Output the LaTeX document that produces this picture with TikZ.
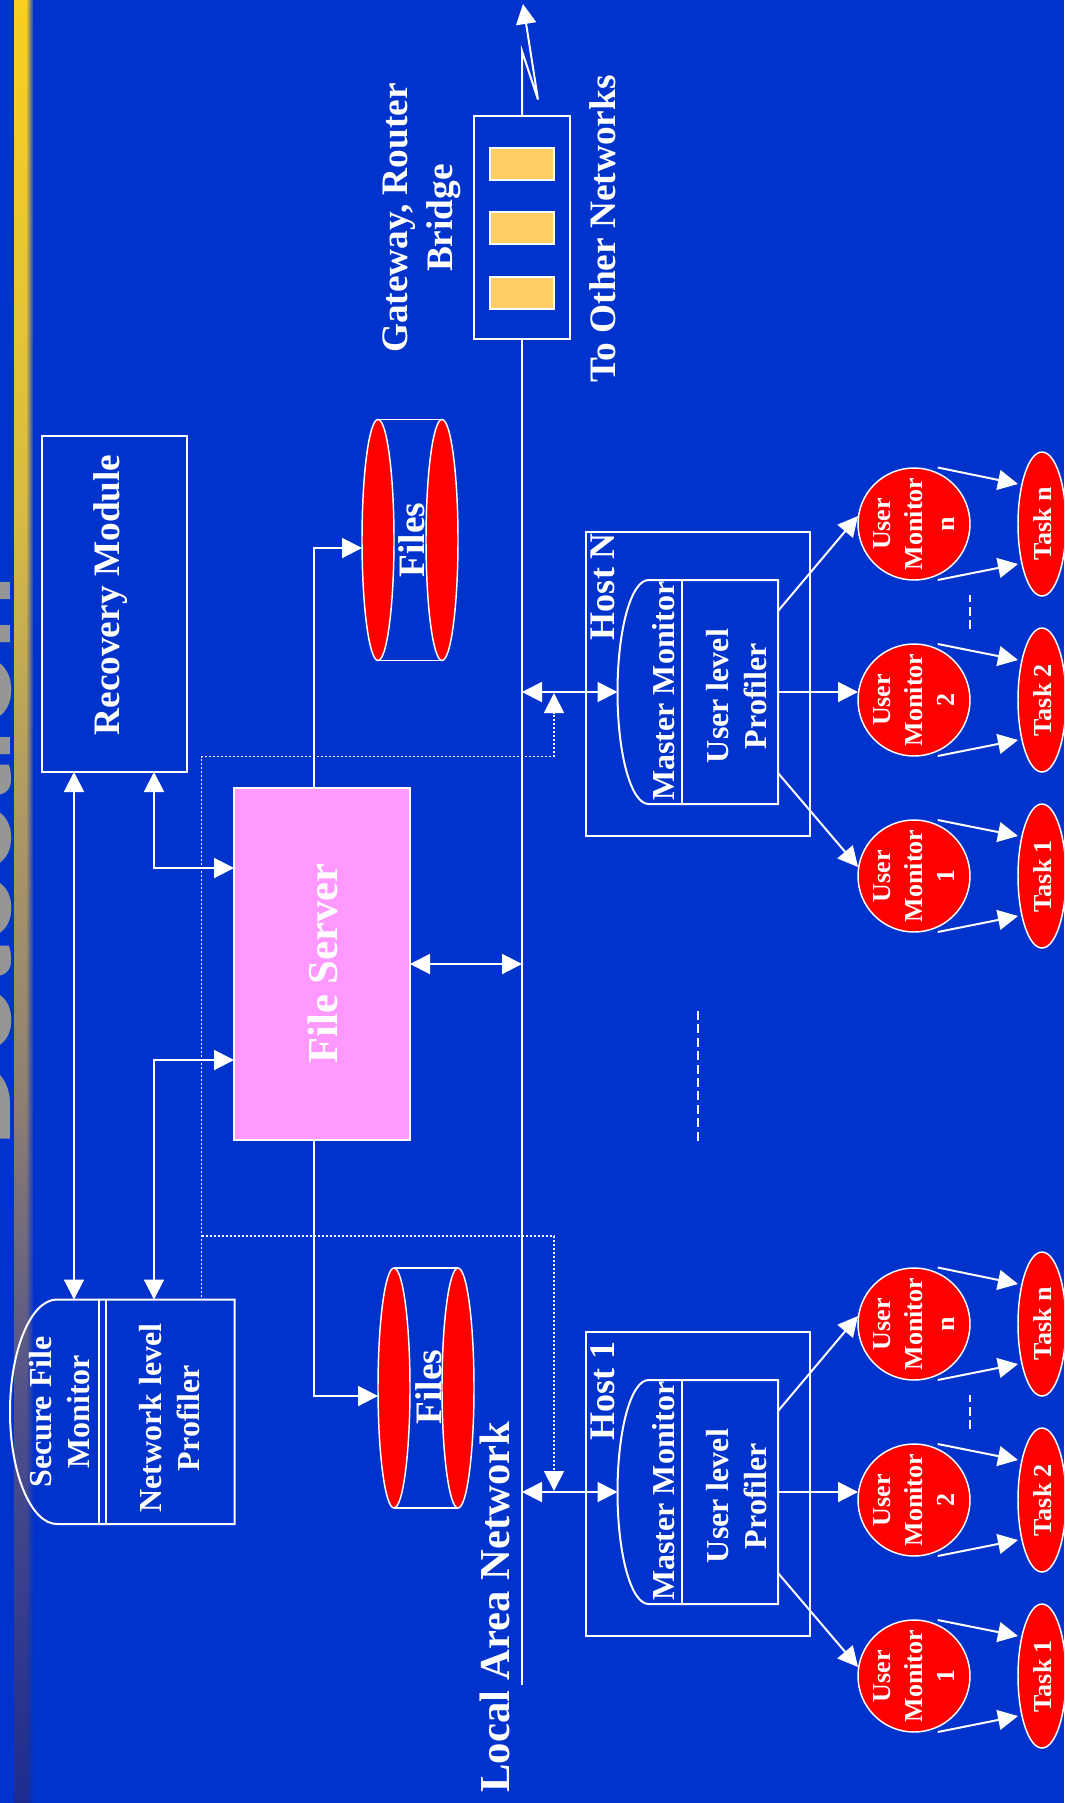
\documentclass[tikz,border=0pt]{standalone}
\usepackage{fontspec}
\setmainfont{Liberation Serif}
\newfontfamily\titlefont{Liberation Sans}
\usetikzlibrary{arrows.meta,shapes.geometric,fadings}
\definecolor{slidebg}{HTML}{0033CC}
\definecolor{pinkbox}{HTML}{FF99FF}
\definecolor{slot}{HTML}{FFCC66}
\definecolor{titlegray}{HTML}{969696}
\definecolor{barA}{HTML}{1C2B8E}
\definecolor{barB}{HTML}{50508A}
\definecolor{barC}{HTML}{8F7F72}
\definecolor{barD}{HTML}{AF9A62}
\definecolor{barE}{HTML}{D9BC42}
\definecolor{barF}{HTML}{F9D020}
\pgfdeclareverticalshading{barshade}{100bp}{
  color(0bp)=(barA);color(25bp)=(barA);color(36bp)=(barB);color(44.5bp)=(barC);color(52.8bp)=(barD);color(61bp)=(barE);color(75bp)=(barF);color(100bp)=(barF)}
\tikzfading[name=barfade,left color=transparent!100,right color=transparent!0]
\tikzset{
  x=0.75pt,y=-0.75pt,
  wline/.style={draw=white,line width=1.5pt},
  thinl/.style={draw=white,line width=1.2pt},
  arr/.style={wline,-{Triangle[length=15pt,width=15pt]}},
  darr/.style={wline,{Triangle[length=15pt,width=15pt]}-{Triangle[length=15pt,width=15pt]}},
  dots/.style={draw=white,line width=1.3pt,dash pattern=on 1.5pt off 1.5pt},
  dotarr/.style={dots,-{Triangle[length=15pt,width=15pt]}},
  bx/.style={wline,rectangle,inner sep=0pt,outer sep=0pt},
  redell/.style={ellipse,draw=white,line width=1.1pt,fill=red,inner sep=0pt,outer sep=0pt},
  lbl/.style={rotate=90,text=white,inner sep=0pt,outer sep=0pt,align=center},
  big/.style={lbl,font=\bfseries\fontsize{28}{33.75}\selectfont},
  mid/.style={lbl,font=\bfseries\fontsize{24}{28.5}\selectfont},
  small/.style={lbl,font=\bfseries\fontsize{19.5}{24}\selectfont},
}
\begin{document}
\begin{tikzpicture}
\useasboundingbox (0,0) rectangle (1064,1803);
\clip (0,0) rectangle (1064,1803);
\fill[slidebg] (0,0) rectangle (1064,1803);
% clipped slide title and side bar
\node[rotate=90,anchor=base,text=titlegray,inner sep=0pt,font=\titlefont\bfseries\fontsize{94.4}{100}\selectfont] (title) at (11,861) {Detection};
\shade[shading=barshade] (14,0) rectangle (33,1803);
\fill[slidebg,path fading=barfade] (26,-40) rectangle (34,1843);
% gateway
\node[bx,minimum width=72pt,minimum height=167.25pt] (gw) at (522.2,227.5) {};
\node[bx,fill=slot,minimum width=48pt,minimum height=24pt] (s1) at (522.2,164) {};
\node[bx,fill=slot,minimum width=48pt,minimum height=24pt] (s2) at (522.2,228) {};
\node[bx,fill=slot,minimum width=48pt,minimum height=24pt] (s3) at (522.2,292.5) {};
\coordinate (z1) at (522,51);
\coordinate (z2) at (538,99.5);
\coordinate (z3) at (523,4);
\draw[arr] (gw.north) -- (z1) -- (z2) -- (z3);
\coordinate (lanEnd) at (522.2,1685);
\draw[wline] (gw.south) -- (lanEnd);
\node[big] (gwt) at (422,218) {Gateway, Router\\Bridge};
\node[big,anchor=base] (toot) at (615.5,229) {To Other Networks};
\node[lbl,anchor=base,font=\bfseries\fontsize{32}{38}\selectfont] (lant) at (509,1607) {Local Area Network};
% recovery
\node[bx,minimum width=108.4pt,minimum height=252pt] (rec) at (114.25,604) {};
\node[big,anchor=base] (rect) at (119,595) {Recovery Module};
% file server
\node[bx,fill=pinkbox,minimum width=132pt,minimum height=264pt] (fs) at (322,964) {};
\node[lbl,anchor=base,font=\bfseries\fontsize{32}{38}\selectfont] (fst) at (337,963.5) {File Server};
% files
\node[redell,minimum width=24pt,minimum height=180.75pt] (fa) at (378,540) {};
\node[redell,minimum width=24pt,minimum height=180.75pt] (fb) at (442,540) {};
\draw[thinl] (fa.north) -- (fb.north) (fa.south) -- (fb.south);
\node[big,anchor=base] (fat) at (424.5,540) {Files};
\node[redell,minimum width=24pt,minimum height=180pt] (fc) at (394,1388) {};
\node[redell,minimum width=24pt,minimum height=180pt] (fd) at (458,1388) {};
\draw[thinl] (fc.north) -- (fd.north) (fc.south) -- (fd.south);
\node[big,anchor=base] (fct) at (441,1387) {Files};
% secure file monitor
\coordinate (sa) at (57,1299.5);
\coordinate (sb) at (234.7,1299.5);
\coordinate (sc) at (234.7,1524);
\coordinate (sd) at (57,1524);
\coordinate (sl) at (10,1411.7);
\draw[wline,line join=miter] (sa) -- (sb) -- (sc) -- (sd) .. controls (31,1524) and (10,1473) .. (sl) .. controls (10,1350) and (31,1299.5) .. (sa);
\coordinate (d1a) at (99,1299.5); \coordinate (d1b) at (99,1524);
\coordinate (d2a) at (106,1299.5); \coordinate (d2b) at (106,1524);
\draw[wline] (d1a) -- (d1b) (d2a) -- (d2b);
\node[mid] (sft) at (60,1412) {Secure File\\Monitor};
\node[mid] (nlt) at (170,1418) {Network level\\Profiler};
% connectors left
\coordinate (rA) at (74,772); \coordinate (sA) at (74,1299.5);
\coordinate (rB) at (154,772); \coordinate (kB) at (154,868); \coordinate (fB) at (234,868);
\coordinate (fC) at (234,1060); \coordinate (kC) at (154,1060); \coordinate (sC) at (154,1299.5);
\draw[darr] (rA) -- (sA);
\draw[darr] (rB) -- (kB) -- (fB);
\draw[darr] (fC) -- (kC) -- (sC);
\coordinate (fD) at (314,788); \coordinate (kD) at (314,548); \coordinate (tD) at (362,548);
\draw[arr] (fD) -- (kD) -- (tD);
\coordinate (fE) at (314,1140); \coordinate (kE) at (314,1396); \coordinate (tE) at (378,1396);
\draw[arr] (fE) -- (kE) -- (tE);
\coordinate (fF) at (410,964); \coordinate (lF) at (522,964);
\draw[darr] (fF) -- (lF);
% hosts
\foreach \h/\ys in {N/0,1/-600}{
\begin{scope}[yshift=\ys pt]
\node[bx,minimum width=168.2pt,minimum height=228pt] (hb\h) at (698,684) {};
\coordinate (ma\h) at (648.6,580);
\coordinate (mb\h) at (778,580);
\coordinate (mc\h) at (778,804);
\coordinate (md\h) at (648.6,804);
\coordinate (ml\h) at (617.5,692);
\coordinate (da\h) at (682.4,580);
\coordinate (db\h) at (682.4,804);
\draw[wline] (ma\h) -- (mb\h) -- (mc\h) -- (md\h) .. controls (631,804) and (617.5,754) .. (ml\h) .. controls (617.5,630) and (631,580) .. (ma\h);
\draw[wline] (da\h) -- (db\h);
\node[lbl,anchor=base west,font=\bfseries\fontsize{27}{32}\selectfont] (ht\h) at (614,640) {Host \h};
\node[mid,anchor=base] (mmt\h) at (674.4,691) {Master Monitor};
\node[mid] (ult\h) at (737,696) {User level\\Profiler};
\coordinate (lan\h) at (522,692);
\draw[darr] (lan\h) -- (ml\h);
\foreach \m/\my/\lb/\ax/\ay in {n/524/n/778/611,2/700/2/778/692,1/876/1/778/773}{
  \node[redell,minimum width=84pt,minimum height=84pt] (um\m\h) at (914,\my) {};
  \node[small] (umt\m\h) at (914,\my) {User\\Monitor\\\lb};
  \node[redell,minimum width=36pt,minimum height=108pt] (tk\m\h) at (1042,\my) {};
  \node[small] (tkt\m\h) at (1043,\my) {Task \lb};
  \coordinate (pf\m\h) at (\ax,\ay);
}
\coordinate (tgn\h) at (858,516);
\coordinate (tg2\h) at (858,692);
\coordinate (tg1\h) at (858,867);
\foreach \m in {n,2,1}{\draw[arr] (pf\m\h) -- (tg\m\h);}
\foreach \m/\ya/\yb/\ta/\tb in {n/467.5/580/484/564,2/644/756/660/740,1/820/932/836/916}{
  \coordinate (oa\m\h) at (937.7,\ya);
  \coordinate (ob\m\h) at (937.7,\yb);
  \coordinate (ia\m\h) at (1018,\ta);
  \coordinate (ib\m\h) at (1018,\tb);
  \draw[arr] (oa\m\h) -- (ia\m\h);
  \draw[arr] (ob\m\h) -- (ib\m\h);
}
\coordinate (dsa\h) at (970,595);
\coordinate (dsb\h) at (970,629);
\draw[wline,dash pattern=on 6.75pt off 3.3pt] (dsb\h) -- (dsa\h);
\end{scope}
}
% dotted monitoring links
\coordinate (pa) at (201.6,1297);
\coordinate (pb) at (201.6,756.6);
\coordinate (pc) at (554,756.6);
\coordinate (pd) at (554,693);
\coordinate (qa) at (201.6,1236);
\coordinate (qb) at (554,1236);
\coordinate (qc) at (554,1491);
\draw[dots] (pa) -- (pb) -- (pc);
\draw[dotarr] (pc) -- (pd);
\draw[dots] (qa) -- (qb);
\draw[dotarr] (qb) -- (qc);
% central dashes
\coordinate (ca) at (698,1011);
\coordinate (cb) at (698,1141);
\draw[wline,dash pattern=on 6.75pt off 3.3pt] (ca) -- (cb);
\end{tikzpicture}
\end{document}
